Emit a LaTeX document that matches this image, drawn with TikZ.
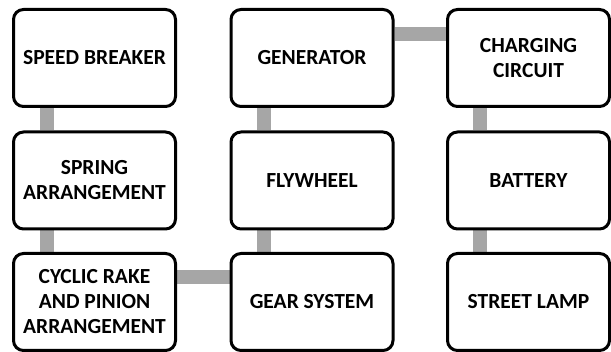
\documentclass[tikz,border=0pt]{standalone}
\usepackage{fontspec}
\setmainfont{Carlito}
\usetikzlibrary{backgrounds}
\definecolor{bargray}{HTML}{A6A6A6}
\tikzset{
  blk/.style={draw=black, line width=3pt, rounded corners=10pt, fill=white,
    minimum width=162pt, minimum height=97pt, inner sep=0pt, align=center,
    font=\fontsize{21.5}{25}\selectfont\bfseries},
  bar/.style={draw=bargray, line width=14pt}
}
\begin{document}
\begin{tikzpicture}[x=1pt,y=-1pt]
\useasboundingbox (0,0) rectangle (611,352);
\node[blk] (sb) at (94.5,58) {SPEED BREAKER};
\node[blk] (sp) at (94.5,180.5) {SPRING\\ARRANGEMENT};
\node[blk] (cr) at (94.5,302) {CYCLIC RAKE\\AND PINION\\ARRANGEMENT};
\node[blk] (gn) at (312,58) {GENERATOR};
\node[blk] (fw) at (312,180.5) {FLYWHEEL};
\node[blk] (gs) at (312,302) {GEAR SYSTEM};
\node[blk] (cc) at (528.5,58) {CHARGING\\CIRCUIT};
\node[blk] (bt) at (528.5,180.5) {BATTERY};
\node[blk] (sl) at (528.5,302) {STREET LAMP};
\begin{pgfonlayer}{background}
\draw[bar] ([xshift=35pt]sb.south west) -- ([xshift=35pt]sp.north west);
\draw[bar] ([xshift=35pt]sp.south west) -- ([xshift=35pt]cr.north west);
\draw[bar] ([yshift=-25pt]cr.north east) -- ([yshift=-25pt]gs.north west);
\draw[bar] ([xshift=34pt]gs.north west) -- ([xshift=34pt]fw.south west);
\draw[bar] ([xshift=34pt]fw.north west) -- ([xshift=34pt]gn.south west);
\draw[bar] ([yshift=-26.5pt]gn.north east) -- ([yshift=-26.5pt]cc.north west);
\draw[bar] ([xshift=34pt]cc.south west) -- ([xshift=34pt]bt.north west);
\draw[bar] ([xshift=34pt]bt.south west) -- ([xshift=34pt]sl.north west);
\end{pgfonlayer}
\end{tikzpicture}
\end{document}
